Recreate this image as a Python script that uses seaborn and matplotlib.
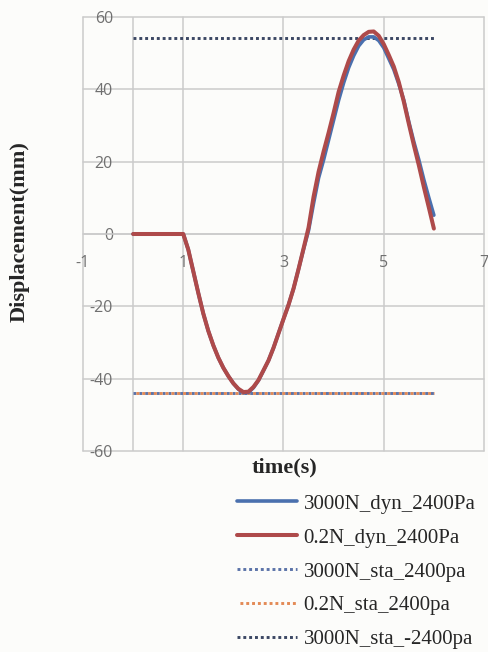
import numpy as np
import pandas as pd
import matplotlib
matplotlib.use("Agg")
import matplotlib.pyplot as plt
import seaborn as sns

# ---------------- data ----------------
time_s = [0.0, 0.1, 0.2, 0.3, 0.4, 0.5, 0.6, 0.7, 0.8, 0.9,
          1.0, 1.1, 1.2, 1.3, 1.4, 1.5, 1.6, 1.7, 1.8, 1.9,
          2.0, 2.1, 2.2, 2.3, 2.4, 2.5, 2.6, 2.7, 2.8, 2.9,
          3.0, 3.1, 3.2, 3.3, 3.4, 3.5, 3.6, 3.7, 3.8, 3.9,
          4.0, 4.1, 4.2, 4.3, 4.4, 4.5, 4.6, 4.7, 4.8, 4.9,
          5.0, 5.1, 5.2, 5.3, 5.4, 5.5, 5.6, 5.7, 5.8, 5.9, 6.0]

dyn_3000N = [0, 0, 0, 0, 0, 0, 0, 0, 0, 0,
             0, -4.3, -10.3, -16.3, -22.0, -26.8, -30.8, -34.2, -37.0, -39.3,
             -41.3, -42.9, -43.9, -43.8, -42.5, -40.5, -37.8, -35.0, -31.5, -27.5,
             -23.5, -19.6, -15.1, -9.7, -4.2, 1.0, 8.5, 15.5, 20.5, 26.0,
             31.5, 37.0, 41.8, 46.0, 49.3, 52.0, 53.7, 54.5, 54.5, 53.5,
             51.5, 48.5, 45.5, 41.5, 37.0, 31.0, 25.5, 20.5, 15.0, 10.0, 5.2]

dyn_02N = [0, 0, 0, 0, 0, 0, 0, 0, 0, 0,
           0, -4.3, -10.3, -16.3, -22.0, -26.8, -30.8, -34.2, -37.0, -39.3,
           -41.3, -42.8, -43.7, -43.6, -42.3, -40.4, -37.7, -35.0, -31.5, -27.5,
           -23.5, -19.6, -15.1, -9.7, -4.0, 1.8, 10.3, 17.2, 22.8, 28.0,
           33.5, 39.3, 43.8, 47.8, 51.0, 53.5, 55.0, 55.9, 56.0, 54.8,
           52.5, 49.5, 46.3, 42.0, 36.6, 30.5, 24.6, 19.0, 13.0, 7.3, 1.5]

sta_time = [0.0, 6.0]
sta_3000N_pos = [-44.0, -44.0]
sta_02N_pos = [-44.0, -44.0]
sta_3000N_neg = [54.3, 54.3]

labels = ["3000N_dyn_2400Pa", "0.2N_dyn_2400Pa", "3000N_sta_2400pa",
          "0.2N_sta_2400pa", "3000N_sta_-2400pa"]

x_ticks = [-1, 1, 3, 5, 7]
y_ticks = [-60, -40, -20, 0, 20, 40, 60]

# ---------------- style ----------------
sns.set_theme(style="white")
plt.rcParams["font.family"] = ["Open Sans", "DejaVu Sans"]

bg = "#FCFCFA"
grid_c = "#CBCBCB"
tick_c = "#707070"
c_blue = "#4A70AE"
c_red = "#AE4A4A"
c_sta_blue = "#5B73A8"
c_sta_orange = "#E38A55"
c_sta_dark = "#3B4763"

fig = plt.figure(figsize=(4.89, 6.52), dpi=100, facecolor=bg)
ax = fig.add_axes([83 / 489, 1 - 451 / 652, (484 - 83) / 489, (451 - 17) / 652])
ax.set_facecolor(bg)

df_dyn = pd.DataFrame({"t": time_s, "a": dyn_3000N, "b": dyn_02N})
df_sta = pd.DataFrame({"t": sta_time, "p": sta_3000N_pos, "o": sta_02N_pos,
                       "n": sta_3000N_neg})

sns.lineplot(data=df_dyn, x="t", y="a", ax=ax, color=c_blue, lw=2.6,
             label=labels[0], zorder=4)
sns.lineplot(data=df_dyn, x="t", y="b", ax=ax, color=c_red, lw=2.9,
             label=labels[1], zorder=5)
sns.lineplot(data=df_sta, x="t", y="p", ax=ax, color=c_sta_blue, lw=2.1,
             linestyle=(0, (1, 1)), label=labels[2], zorder=3)
sns.lineplot(data=df_sta, x="t", y="o", ax=ax, color=c_sta_orange, lw=2.1,
             linestyle=(1, (1, 1)), label=labels[3], zorder=3)
sns.lineplot(data=df_sta, x="t", y="n", ax=ax, color=c_sta_dark, lw=2.1,
             linestyle=(0, (1, 1)), label=labels[4], zorder=3)

ax.set_xlim(-1, 7)
ax.set_ylim(-60, 60)
ax.set_xticks(x_ticks)
ax.set_yticks(y_ticks)
ax.set_xticklabels([str(v) for v in x_ticks])
ax.set_yticklabels([str(v) for v in y_ticks])

for s in ax.spines.values():
    s.set_visible(False)
ax.spines["bottom"].set_position(("data", 0))

ax.grid(True, color=grid_c, lw=1.1)
for ln in ax.get_xgridlines() + ax.get_ygridlines():
    ln.set_clip_on(False)
ax.axvline(0, color=grid_c, lw=1.1, zorder=1)
ax.axhline(0, color=grid_c, lw=1.1, zorder=1)

ax.tick_params(axis="x", length=0, pad=15, labelsize=11.5, labelcolor=tick_c)
ax.tick_params(axis="y", length=0, pad=-21.6, labelsize=11.5, labelcolor=tick_c)

ax.set_xlabel("")
ax.set_ylabel("")
fig.text(284 / 489, 1 - 467 / 652, "time(s)", ha="center", va="center",
         fontsize=16, fontweight="bold", family=["Liberation Serif"])
fig.text(20 / 489, 1 - 232 / 652, "Displacement(mm)", ha="center", va="center",
         rotation=90, fontsize=16, fontweight="bold", family=["Liberation Serif"])

handles, labs = ax.get_legend_handles_labels()
if ax.legend_:
    ax.legend_.remove()
leg = fig.legend(handles, labs, loc="upper left",
                 bbox_to_anchor=(237 / 489, 1 - 494 / 652),
                 frameon=False, borderpad=0, borderaxespad=0,
                 handlelength=2.9, handletextpad=0.3, labelspacing=0.69,
                 prop={"family": "Liberation Serif", "size": 15})

fig.savefig("out.png", dpi=100, facecolor=bg)
